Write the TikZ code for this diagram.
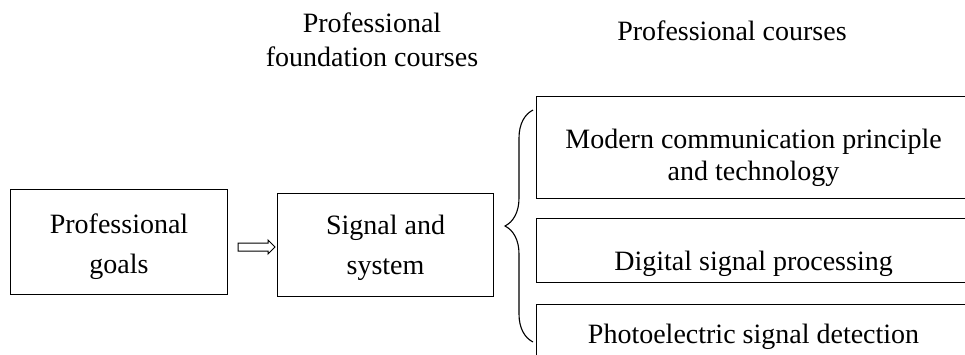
\documentclass[tikz,border=0pt]{standalone}
\usepackage{fontspec}
\setmainfont{Liberation Serif}
\usetikzlibrary{positioning,shapes.arrows,decorations.pathreplacing}

\begin{document}
\begin{tikzpicture}[x=1pt, y=-1pt, line width=1.1pt,
  every node/.style={font=\fontsize{28}{34}\selectfont},
  box/.style={draw, anchor=north west, align=center, inner sep=0pt},
  head/.style={align=center, inner sep=0pt}]
\useasboundingbox (0,0) rectangle (965,354);
\clip (0,0) rectangle (965,354);

% column titles
\node[head] (tfound) at (372,40) {Professional\\foundation courses};
\node[head] (tcour) at (732,31) {Professional courses};

% left part: goals => foundation course
\node[box, font=\fontsize{28}{40}\selectfont, minimum width=217pt, text height=84pt, text depth=21pt] (goals) at (10,189) {Professional\\goals};
\node[box, font=\fontsize{28}{40}\selectfont, minimum width=216pt, text height=81pt, text depth=22pt] (signal) at (277,193) {Signal and\\system};
\node[draw, single arrow, font=\tiny, minimum height=37pt, inner xsep=0pt, inner ysep=3.5pt, single arrow head extend=3pt, line width=1pt] (imp) at (254.5,247) {};

% right part: the three courses, cut by the page edge
\node[box, font=\fontsize{28}{32}\selectfont, minimum width=434pt, text height=84pt, text depth=18pt] (mcp) at (536,96) {Modern communication principle\\and technology};
\node[box, minimum width=434pt, text height=52pt, text depth=12pt] (dsp) at (536,218) {Digital signal processing};
\node[box, minimum width=434pt, text height=39pt, text depth=27pt] (psd) at (536,304) {Photoelectric signal detection};

% brace in front of the courses
\coordinate (btop) at (533,110);
\coordinate (bbot) at (533,342);
\draw[decorate, decoration={brace, amplitude=28pt}] (bbot) -- (btop);
\end{tikzpicture}
\end{document}
